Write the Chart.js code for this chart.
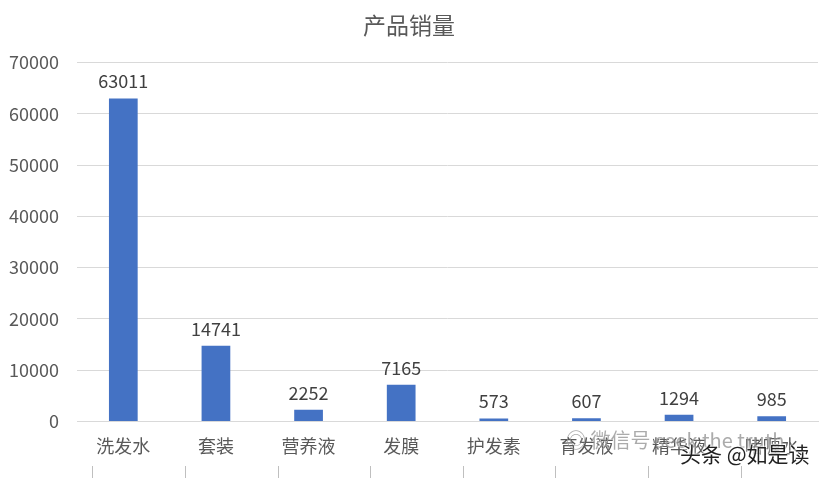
<!DOCTYPE html>
<html>
<head>
<meta charset="utf-8">
<script src="https://cdn.jsdelivr.net/npm/chart.js@4.4.0/dist/chart.umd.min.js"></script>
<style>
    html, body { margin: 0; padding: 0; background: #fff; }
    #wrap { position: relative; width: 826px; height: 478px; }
    .wm1 {
        position: absolute; left: 566px; top: 425px;
        font: 20px "Noto Sans CJK SC", sans-serif; color: rgba(150,150,150,0.8);
        white-space: nowrap;
    }
    .wm2 {
        position: absolute; left: 680px; top: 438px;
        font: 21px "Noto Sans CJK SC", sans-serif; color: #222;
        text-shadow: 0 0 2px #fff, 0 0 2px #fff, 0 0 3px #fff;
        white-space: nowrap;
    }
</style>
</head>
<body>
<div id="wrap">
    <canvas id="chart" width="826" height="478"></canvas>
    <div class="wm1">◎ 微信号 seek the truth</div>
    <div class="wm2">头条 @如是读</div>
</div>
<script>
// data
const categories = ['洗发水', '套装', '营养液', '发膜', '护发素', '育发液', '精华液', '啫喱水'];
const sales = [63011, 14741, 2252, 7165, 573, 607, 1294, 985];
const yTicks = [0, 10000, 20000, 30000, 40000, 50000, 60000, 70000];

const FONT = '"Noto Sans CJK SC", "Noto Sans", sans-serif';

// value labels above each bar
const barLabels = {
    id: 'barLabels',
    afterDatasetsDraw(chart) {
        const { ctx } = chart;
        const meta = chart.getDatasetMeta(0);
        ctx.save();
        ctx.font = '18px ' + FONT;
        ctx.fillStyle = '#404040';
        ctx.textAlign = 'center';
        ctx.textBaseline = 'bottom';
        meta.data.forEach((bar, i) => {
            ctx.fillText(String(sales[i]), bar.x, bar.y - 8);
        });
        ctx.restore();
    }
};

// little tick marks left over at the bottom edge
const bottomTicks = {
    id: 'bottomTicks',
    afterDraw(chart) {
        const { ctx } = chart;
        const x = chart.scales.x;
        const step = x.getPixelForValue(1) - x.getPixelForValue(0);
        ctx.save();
        ctx.strokeStyle = '#bfbfbf';
        ctx.lineWidth = 1;
        categories.forEach((c, i) => {
            const px = Math.round(x.getPixelForValue(i) - step * 0.335) + 0.5;
            ctx.beginPath();
            ctx.moveTo(px, chart.height - 12);
            ctx.lineTo(px, chart.height);
            ctx.stroke();
        });
        ctx.restore();
    }
};

new Chart(document.getElementById('chart'), {
    type: 'bar',
    data: {
        labels: categories,
        datasets: [{
            data: sales,
            backgroundColor: '#4472C4',
            borderWidth: 0,
            categoryPercentage: 1,
            barPercentage: 0.31
        }]
    },
    options: {
        responsive: false,
        animation: false,
        layout: { padding: { left: 0, right: 8, top: 0, bottom: 15 } },
        plugins: {
            legend: { display: false },
            tooltip: { enabled: false },
            title: {
                display: true,
                text: '产品销量',
                color: '#595959',
                font: { family: FONT, size: 23, weight: 'normal' },
                padding: { top: 11, bottom: 24 }
            }
        },
        scales: {
            x: {
                grid: { display: false },
                border: { color: '#d9d9d9' },
                ticks: {
                    color: '#595959',
                    font: { family: FONT, size: 18 },
                    padding: 6
                }
            },
            y: {
                min: 0,
                max: 70000,
                afterBuildTicks: axis => { axis.ticks = yTicks.map(v => ({ value: v })); },
                afterFit: axis => { axis.width = 77; },
                grid: { color: '#d9d9d9', drawTicks: false },
                border: { display: false },
                ticks: {
                    color: '#595959',
                    font: { family: FONT, size: 18 },
                    padding: 18,
                    callback: v => String(v)
                }
            }
        }
    },
    plugins: [barLabels, bottomTicks]
});
</script>
</body>
</html>
